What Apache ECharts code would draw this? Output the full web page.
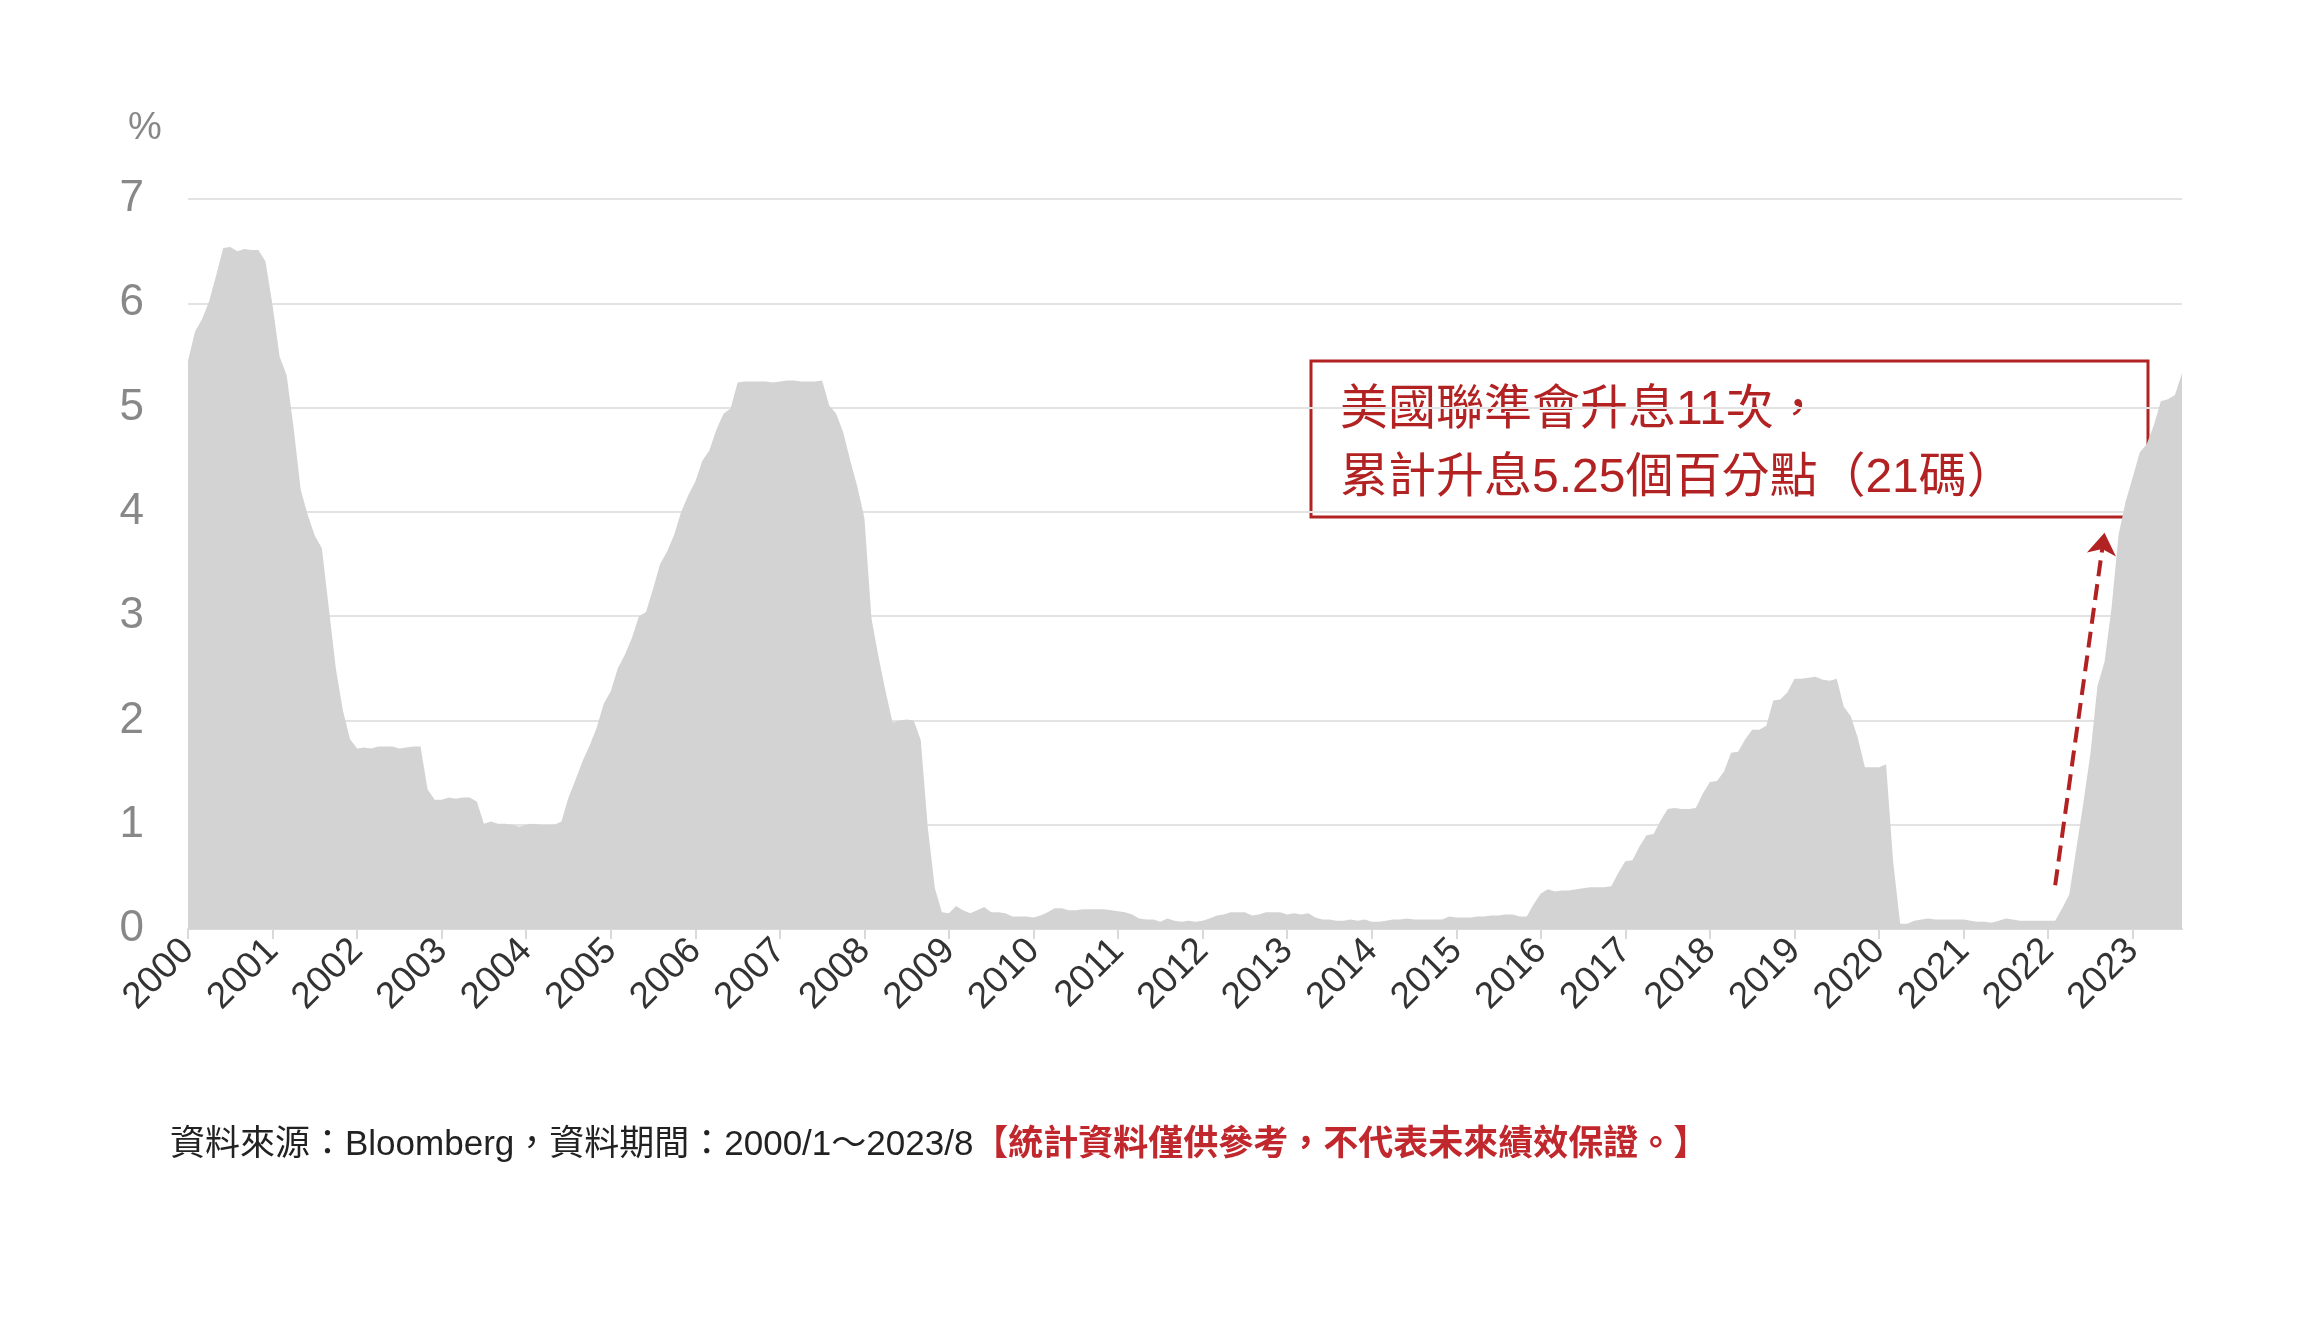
<!DOCTYPE html>
<html>
<head>
<meta charset="utf-8">
<script src="https://cdn.jsdelivr.net/npm/echarts@6/dist/echarts.min.js"></script>
<style>
  html,body{margin:0;padding:0;background:#fff;}
  #chart{width:2304px;height:1320px;}
</style>
</head>
<body>
<div id="chart"></div>
<script>
// 美國聯邦基金有效利率（月資料，%）
var years = [];
for (var y = 2000; y <= 2023; y++) years.push(y);
var rates = [
  5.45,5.73,5.85,6.02,6.27,6.53,6.54,6.50,6.52,6.51,6.51,6.40,
  5.98,5.49,5.31,4.80,4.21,3.97,3.77,3.65,3.07,2.49,2.09,1.82,
  1.73,1.74,1.73,1.75,1.75,1.75,1.73,1.74,1.75,1.75,1.34,1.24,
  1.24,1.26,1.25,1.26,1.26,1.22,1.01,1.03,1.01,1.01,1.00,0.98,
  1.00,1.01,1.00,1.00,1.00,1.03,1.26,1.43,1.61,1.76,1.93,2.16,
  2.28,2.50,2.63,2.79,3.00,3.04,3.26,3.50,3.62,3.78,4.00,4.16,
  4.29,4.49,4.59,4.79,4.94,4.99,5.24,5.25,5.25,5.25,5.25,5.24,
  5.25,5.26,5.26,5.25,5.25,5.25,5.26,5.02,4.94,4.76,4.49,4.24,
  3.94,2.98,2.61,2.28,1.98,2.00,2.01,2.00,1.81,0.97,0.39,0.16,
  0.15,0.22,0.18,0.15,0.18,0.21,0.16,0.16,0.15,0.12,0.12,0.12,
  0.11,0.13,0.16,0.20,0.20,0.18,0.18,0.19,0.19,0.19,0.19,0.18,
  0.17,0.16,0.14,0.10,0.09,0.09,0.07,0.10,0.08,0.07,0.08,0.07,
  0.08,0.10,0.13,0.14,0.16,0.16,0.16,0.13,0.14,0.16,0.16,0.16,
  0.14,0.15,0.14,0.15,0.11,0.09,0.09,0.08,0.08,0.09,0.08,0.09,
  0.07,0.07,0.08,0.09,0.09,0.10,0.09,0.09,0.09,0.09,0.09,0.12,
  0.11,0.11,0.11,0.12,0.12,0.13,0.13,0.14,0.14,0.12,0.12,0.24,
  0.34,0.38,0.36,0.37,0.37,0.38,0.39,0.40,0.40,0.40,0.41,0.54,
  0.65,0.66,0.79,0.90,0.91,1.04,1.15,1.16,1.15,1.15,1.16,1.30,
  1.41,1.42,1.51,1.69,1.70,1.82,1.91,1.91,1.95,2.19,2.20,2.27,
  2.40,2.40,2.41,2.42,2.39,2.38,2.40,2.13,2.04,1.83,1.55,1.55,
  1.55,1.58,0.65,0.05,0.05,0.08,0.09,0.10,0.09,0.09,0.09,0.09,
  0.09,0.08,0.07,0.07,0.06,0.08,0.10,0.09,0.08,0.08,0.08,0.08,
  0.08,0.08,0.20,0.33,0.77,1.21,1.68,2.33,2.56,3.08,3.78,4.10,
  4.33,4.57,4.65,4.83,5.06,5.08,5.12,5.33
];
var months = [];
for (var i = 0; i < rates.length; i++) {
  months.push(years[Math.floor(i / 12)] + '/' + (i % 12 + 1));
}
var annotationLines = ['美國聯準會升息11次，', '累計升息5.25個百分點（21碼）'];
var sourceText = '資料來源：Bloomberg，資料期間：2000/1～2023/8';
var noteText = '【統計資料僅供參考，不代表未來績效保證。】';

var chart = echarts.init(document.getElementById('chart'));
var font = '"Liberation Sans", "Noto Sans CJK TC", sans-serif';
var isJan = function (idx) { return idx % 12 === 0; };

chart.setOption({
  animation: false,
  textStyle: { fontFamily: font },
  grid: { left: 188, right: 122, top: 199, bottom: 391 },
  xAxis: {
    type: 'category',
    data: months,
    boundaryGap: false,
    axisLine: { lineStyle: { color: '#d9d9d9', width: 2 } },
    axisTick: { interval: isJan, length: 10, lineStyle: { color: '#d9d9d9', width: 2 } },
    axisLabel: {
      interval: isJan,
      rotate: 45,
      color: '#333',
      fontSize: 37,
      margin: 16,
      formatter: function (v) { return v.split('/')[0]; }
    }
  },
  yAxis: {
    type: 'value',
    min: 0, max: 7, interval: 1,
    axisLine: { show: false },
    axisTick: { show: false },
    axisLabel: { color: '#888', fontSize: 44, margin: 44 },
    splitLine: { lineStyle: { color: '#e3e3e3', width: 2 } }
  },
  series: [{
    type: 'line',
    data: rates,
    symbol: 'none',
    lineStyle: { width: 0 },
    areaStyle: { color: '#d3d3d3', opacity: 1 },
    markLine: {
      silent: true,
      symbol: ['none', 'arrow'],
      symbolSize: 22,
      label: { show: false },
      lineStyle: { color: '#b22222', type: 'dashed', width: 4 },
      data: [[{ coord: ['2022/2', 0.42] }, { coord: ['2022/9', 3.8] }]]
    }
  }],
  graphic: [
    { type: 'text', left: 128, top: 110,
      style: { text: '%', fontSize: 38, fill: '#888', fontFamily: font } },
    { type: 'rect', shape: { x: 1311, y: 361, width: 837, height: 156 },
      style: { fill: '#fff', stroke: '#b22222', lineWidth: 3 } },
    { type: 'text', left: 1340, top: 377,
      style: { text: annotationLines.join('\n'), fontSize: 48, lineHeight: 68, fill: '#b22222', fontFamily: font } },
    { type: 'text', left: 170, top: 1128,
      style: {
        text: '{a|' + sourceText + '}{b|' + noteText + '}',
        fontFamily: font,
        rich: {
          a: { fontSize: 35, fill: '#222', fontFamily: font },
          b: { fontSize: 35, fontWeight: 'bold', fill: '#c0282d', fontFamily: font }
        }
      } }
  ]
});
</script>
</body>
</html>
